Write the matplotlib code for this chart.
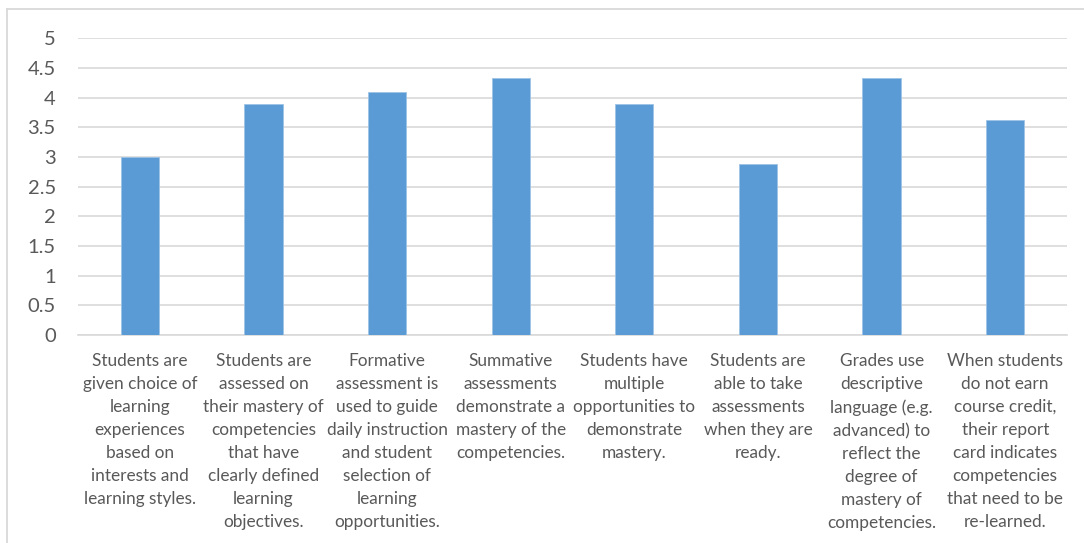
import matplotlib
matplotlib.use("Agg")
import matplotlib.pyplot as plt
from matplotlib.lines import Line2D

categories = [
    "Students are\ngiven choice of\nlearning\nexperiences\nbased on\ninterests and\nlearning styles.",
    "Students are\nassessed on\ntheir mastery of\ncompetencies\nthat have\nclearly defined\nlearning\nobjectives.",
    "Formative\nassessment is\nused to guide\ndaily instruction\nand student\nselection of\nlearning\nopportunities.",
    "Summative\nassessments\ndemonstrate a\nmastery of the\ncompetencies.",
    "Students have\nmultiple\nopportunities to\ndemonstrate\nmastery.",
    "Students are\nable to take\nassessments\nwhen they are\nready.",
    "Grades use\ndescriptive\nlanguage (e.g.\nadvanced) to\nreflect the\ndegree of\nmastery of\ncompetencies.",
    "When students\ndo not earn\ncourse credit,\ntheir report\ncard indicates\ncompetencies\nthat need to be\nre-learned.",
]
values = [3.0, 3.89, 4.10, 4.33, 3.89, 2.88, 4.33, 3.62]
yticks = [0, 0.5, 1, 1.5, 2, 2.5, 3, 3.5, 4, 4.5, 5]
ytick_labels = ["0", "0.5", "1", "1.5", "2", "2.5", "3", "3.5", "4", "4.5", "5"]

W, H = 1084, 543
fig = plt.figure(figsize=(W / 100, H / 100), dpi=100)
ax = fig.add_axes([78 / W, 1 - 335 / H, (1067 - 78) / W, (335 - 38.3) / H])

text_color = "#595959"
font = "Lato"

x = list(range(len(values)))
ax.bar(x, values, width=0.31, color="#5B9BD5", edgecolor="#9DC3E6", linewidth=0.6, zorder=3)

ax.set_xlim(-0.5, len(values) - 0.5)
ax.set_ylim(0, 5)
ax.set_yticks(yticks)
ax.set_yticklabels(ytick_labels, fontsize=14.5, color=text_color, family=font)
ax.set_xticks(x)
ax.set_xticklabels(categories, fontsize=12.4, color=text_color, family=font,
                   linespacing=1.535, va="top", ha="center")
ax.tick_params(axis="both", length=0)
ax.tick_params(axis="y", pad=16)
ax.tick_params(axis="x", pad=13)

ax.yaxis.grid(True, color="#d9d9d9", linewidth=1.2, zorder=0)
ax.set_axisbelow(True)
for s in ["top", "right", "left"]:
    ax.spines[s].set_visible(False)
ax.spines["bottom"].set_color("#d9d9d9")
ax.spines["bottom"].set_linewidth(1.2)

# outer chart frame
fig.add_artist(Line2D([7 / W, 1], [1 - 9 / H, 1 - 9 / H], color="#d9d9d9", linewidth=1.3,
                      transform=fig.transFigure))
fig.add_artist(Line2D([7 / W, 7 / W], [0, 1 - 9 / H], color="#d9d9d9", linewidth=1.3,
                      transform=fig.transFigure))

fig.savefig("out.png", dpi=100, facecolor="white")
